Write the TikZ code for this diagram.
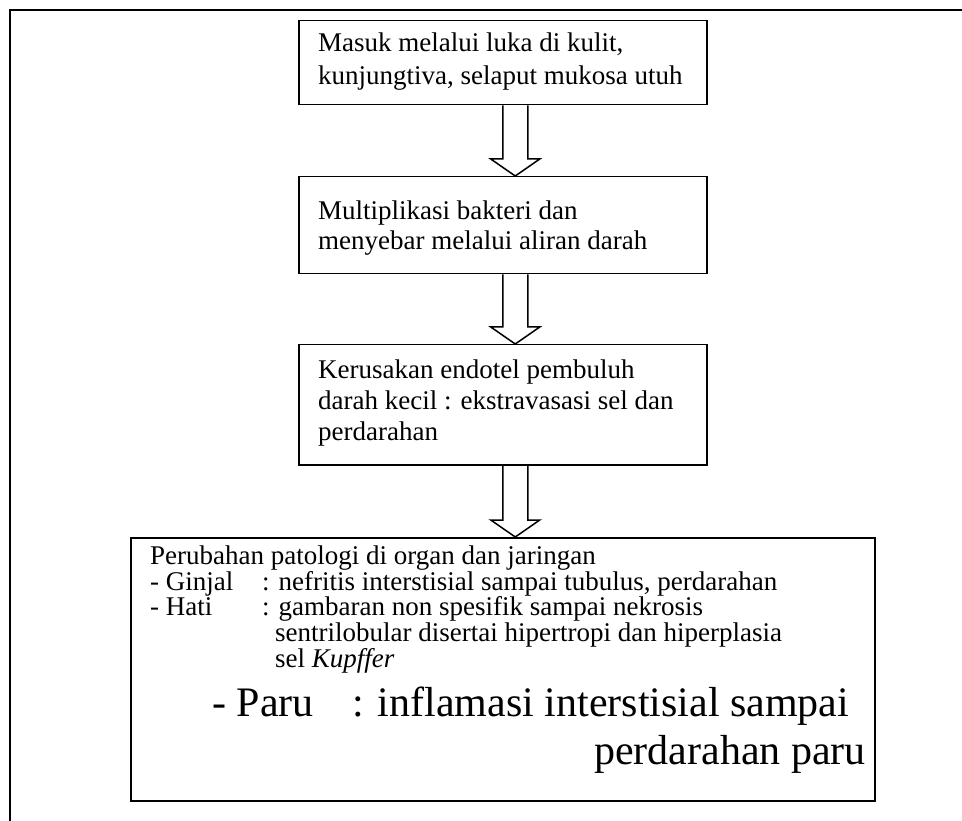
\documentclass[tikz,border=0pt]{standalone}
\usepackage{fontspec}
\setmainfont{Liberation Serif}
\usetikzlibrary{calc}
\tikzset{
  frameline/.style={line width=2.5pt},
  box/.style={draw, line width=1.5pt, rectangle, anchor=north west, inner sep=0pt},
  txt/.style={anchor=base west, inner sep=0pt, font=\fontsize{27}{30}\selectfont},
  bigtxt/.style={anchor=base west, inner sep=0pt, font=\fontsize{42}{44}\selectfont},
  blockarrowline/.style={draw, line width=1.5pt, line join=miter},
}
\newcommand\blockarrow[2]{%
  \draw[blockarrowline] let \p1=($(#1.south)+(12.5,0)$), \p2=(#2.north) in
   (\x1-12.5pt,\y1) -- (\x1-12.5pt,\y2+17pt) -- (\x1-24.5pt,\y2+17pt) -- (\x1,\y2)
   -- (\x1+24.5pt,\y2+17pt) -- (\x1+12.5pt,\y2+17pt) -- (\x1+12.5pt,\y1);}
\begin{document}
\begin{tikzpicture}[x=1pt,y=-1pt]
\useasboundingbox (0,0) rectangle (962,821);
\fill[white] (0,0) rectangle (962,821);
% outer frame
\draw[frameline] (10,830) -- (10,10) -- (970,10);
% boxes
\node[box, minimum width=408pt, minimum height=84pt] (b1) at (298,20) {};
\node[box, minimum width=408pt, minimum height=97pt] (b2) at (298,176) {};
\node[box, minimum width=408pt, minimum height=120pt] (b3) at (298,344) {};
\node[box, minimum width=744pt, minimum height=263pt] (b4) at (130,537) {};
% texts
\node[txt] (t1a) at (318,52) {Masuk melalui luka di kulit,};
\node[txt] (t1b) at (318,85) {kunjungtiva, selaput mukosa utuh};
\node[txt] (t2a) at (318,220) {Multiplikasi bakteri dan};
\node[txt] (t2b) at (318,250) {menyebar melalui aliran darah};
\node[txt] (t3a) at (318,378) {Kerusakan endotel pembuluh};
\node[txt] (t3b) at (318,409) {darah kecil : ekstravasasi sel dan};
\node[txt] (t3c) at (318,440) {perdarahan};
\node[txt] (t4a) at (150,564) {Perubahan patologi di organ dan jaringan};
\node[txt] (t4b) at (150,590) {- Ginjal};
\node[txt] (t4c) at (262,590) {: nefritis interstisial sampai tubulus, perdarahan};
\node[txt] (t4d) at (150,615) {- Hati};
\node[txt] (t4e) at (262,615) {: gambaran non spesifik sampai nekrosis};
\node[txt] (t4f) at (275,641) {sentrilobular disertai hipertropi dan hiperplasia};
\node[txt] (t4g) at (275,667) {sel \textit{Kupffer}};
\node[bigtxt] (t4h) at (212,716) {- Paru};
\node[bigtxt] (t4i) at (352,716) {: inflamasi interstisial sampai};
\begin{scope}
  \clip (130,537) rectangle (874,773);
  \node[bigtxt, anchor=base east] (t4j) at (866,764) {perdarahan paru};
\end{scope}
% arrows
\blockarrow{b1}{b2}
\blockarrow{b2}{b3}
\blockarrow{b3}{b4}
\end{tikzpicture}
\end{document}
